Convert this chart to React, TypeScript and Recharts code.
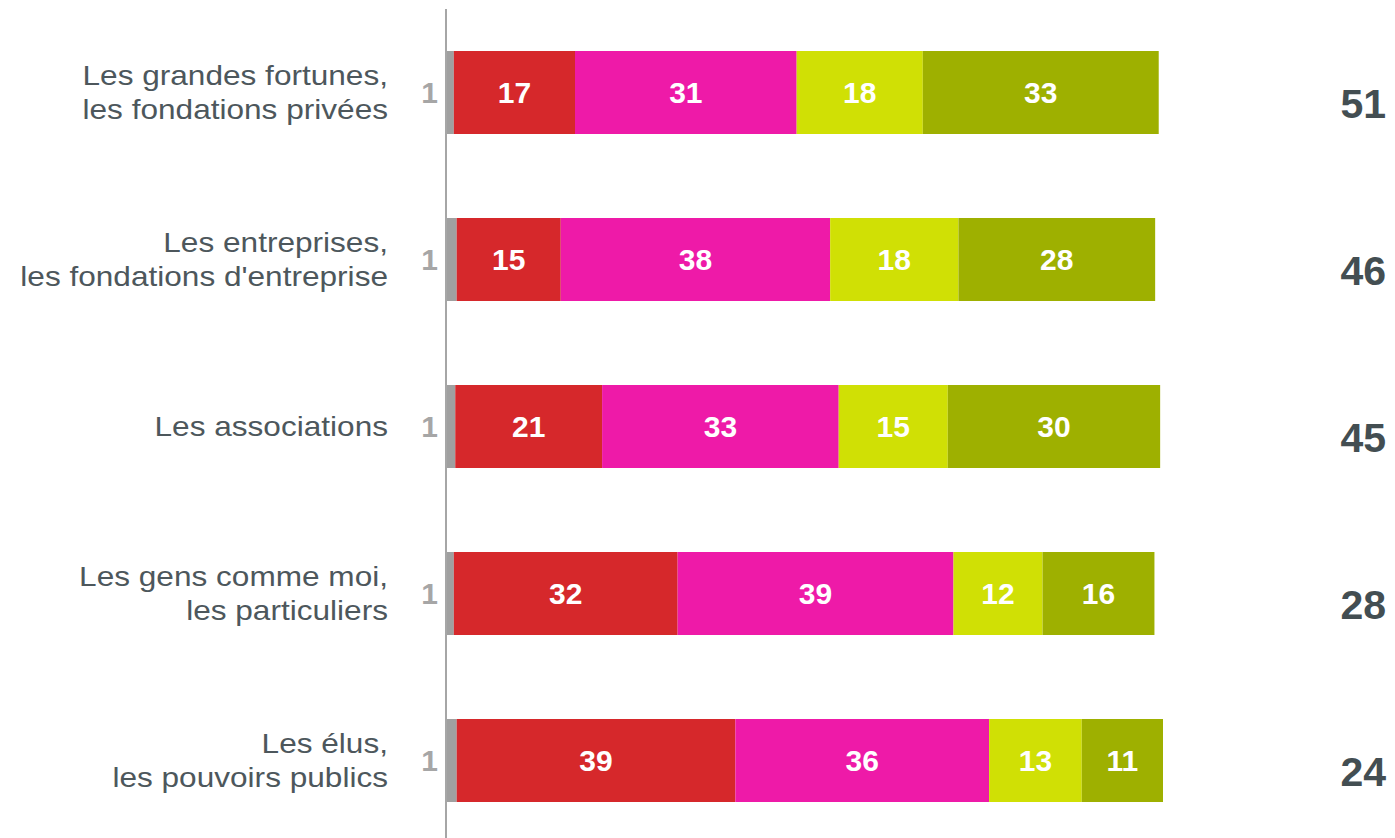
import React from "react";
import { BarChart, Bar, XAxis, YAxis, LabelList } from "recharts";

const categories = [
  "Les grandes fortunes,\nles fondations privées",
  "Les entreprises,\nles fondations d'entreprise",
  "Les associations",
  "Les gens comme moi,\nles particuliers",
  "Les élus,\nles pouvoirs publics",
];

// widths (percent)
const grey = [1.1, 1.5, 1.3, 1.1, 1.5];
const red = [17.0, 14.6, 20.6, 31.4, 39.1];
const magenta = [31.1, 37.8, 33.2, 38.7, 35.6];
const yellow = [17.7, 18.0, 15.3, 12.5, 13.0];
const olive = [33.1, 27.6, 29.8, 15.7, 11.4];

// printed labels
const greyLabels = [1, 1, 1, 1, 1];
const redLabels = [17, 15, 21, 32, 39];
const magentaLabels = [31, 38, 33, 39, 36];
const yellowLabels = [18, 18, 15, 12, 13];
const oliveLabels = [33, 28, 30, 16, 11];
const totals = [51, 46, 45, 28, 24];

const data = categories.map((name, i) => ({
  name,
  grey: grey[i],
  red: red[i],
  magenta: magenta[i],
  yellow: yellow[i],
  olive: olive[i],
}));

const FONT = "'Liberation Sans', Arial, sans-serif";

const CategoryTick = (props: any) => {
  const { x, y, payload } = props;
  const lines: string[] = String(payload.value).split("\n");
  const lh = 34;
  const ax = x - 50;
  const start = y - ((lines.length - 1) * lh) / 2;
  return (
    <text
      x={ax}
      y={start}
      textAnchor="end"
      fill="#4d575c"
      fontSize={27}
      fontFamily={FONT}
      transform={`translate(${ax},0) scale(1.17,1) translate(${-ax},0)`}
    >
      {lines.map((l, i) => (
        <tspan key={i} x={ax} y={start + i * lh} dy="0.35em">
          {l}
        </tspan>
      ))}
    </text>
  );
};

const inside = (labels: number[]) => (props: any) => {
  const { x, y, width, height, index } = props;
  return (
    <text
      x={x + width / 2}
      y={y + height / 2}
      dy="0.36em"
      textAnchor="middle"
      fill="#ffffff"
      fontSize={30}
      fontWeight="bold"
      fontFamily={FONT}
    >
      {labels[index]}
    </text>
  );
};

const greyLabel = (props: any) => {
  const { x, y, height, index } = props;
  return (
    <text
      x={x - 8}
      y={y + height / 2}
      dy="0.36em"
      textAnchor="end"
      fill="#a6a6a6"
      fontSize={30}
      fontWeight="bold"
      fontFamily={FONT}
    >
      {greyLabels[index]}
    </text>
  );
};

const totalLabel = (props: any) => {
  const { y, height, index } = props;
  return (
    <text
      x={1386}
      y={y + height / 2 + 11}
      dy="0.36em"
      textAnchor="end"
      fill="#434e52"
      fontSize={41}
      fontWeight="bold"
      fontFamily={FONT}
    >
      {totals[index]}
    </text>
  );
};

export default function App() {
  return (
    <div style={{ position: "fixed", left: 0, top: 0, width: 1395, height: 838, overflow: "hidden", background: "#fff" }}>
      <BarChart
        width={1395}
        height={844}
        data={data}
        layout="vertical"
        margin={{ top: 9, right: 232, bottom: 0, left: 0 }}
        barCategoryGap={0}
      >
        <XAxis type="number" domain={[0, 100.6]} allowDataOverflow hide />
        <YAxis
          type="category"
          dataKey="name"
          width={446}
          axisLine={{ stroke: "#a6a6a6", strokeWidth: 2 }}
          tickLine={false}
          tick={<CategoryTick />}
          interval={0}
        />
        <Bar dataKey="grey" stackId="a" fill="#a0a0a0" barSize={83} isAnimationActive={false}>
          <LabelList content={greyLabel} />
        </Bar>
        <Bar dataKey="red" stackId="a" fill="#d6282b" barSize={83} isAnimationActive={false}>
          <LabelList content={inside(redLabels)} />
        </Bar>
        <Bar dataKey="magenta" stackId="a" fill="#ee1aa8" barSize={83} isAnimationActive={false}>
          <LabelList content={inside(magentaLabels)} />
        </Bar>
        <Bar dataKey="yellow" stackId="a" fill="#d0e005" barSize={83} isAnimationActive={false}>
          <LabelList content={inside(yellowLabels)} />
        </Bar>
        <Bar dataKey="olive" stackId="a" fill="#9eb000" barSize={83} isAnimationActive={false}>
          <LabelList content={inside(oliveLabels)} />
          <LabelList content={totalLabel} />
        </Bar>
      </BarChart>
    </div>
  );
}
